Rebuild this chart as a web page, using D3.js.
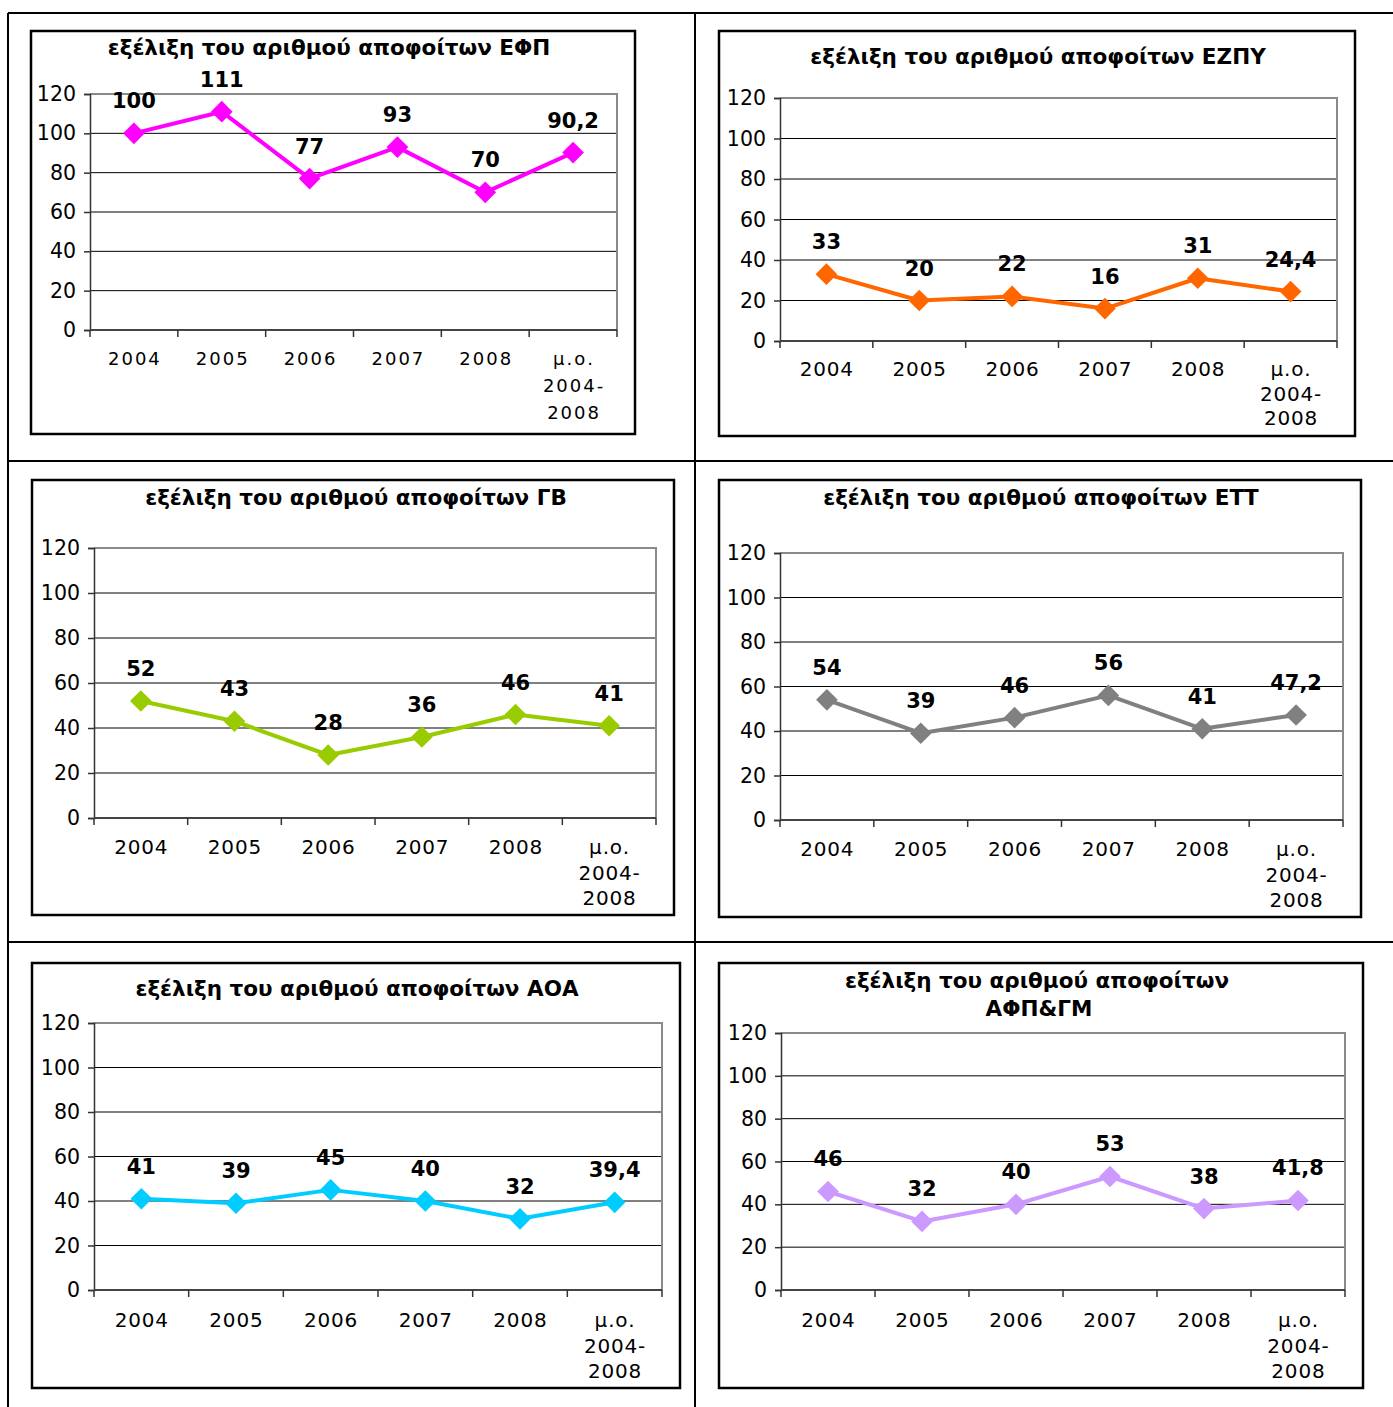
<!DOCTYPE html>
<html><head><meta charset="utf-8">
<script src="https://cdn.jsdelivr.net/npm/d3@7"></script>
<style>body{margin:0;background:#fff}svg{display:block}</style></head>
<body><svg id="c" width="1393" height="1407"></svg>
<script>
// ---- data ----
const categories = ["2004", "2005", "2006", "2007", "2008", "μ.ο. 2004-2008"];
const categoryLines = [["2004"], ["2005"], ["2006"], ["2007"], ["2008"], ["μ.ο.", "2004-", "2008"]];
const yTicks = [0, 20, 40, 60, 80, 100, 120];
const titles = [
  ["εξέλιξη του αριθμού αποφοίτων ΕΦΠ"],
  ["εξέλιξη του αριθμού αποφοίτων ΕΖΠΥ"],
  ["εξέλιξη του αριθμού αποφοίτων ΓΒ"],
  ["εξέλιξη του αριθμού αποφοίτων ΕΤΤ"],
  ["εξέλιξη του αριθμού αποφοίτων ΑΟΑ"],
  ["εξέλιξη του αριθμού αποφοίτων", "ΑΦΠ&ΓΜ"]
];
const valuesEFP = [100, 111, 77, 93, 70, 90.2];
const valuesEZPY = [33, 20, 22, 16, 31, 24.4];
const valuesGB = [52, 43, 28, 36, 46, 41];
const valuesETT = [54, 39, 46, 56, 41, 47.2];
const valuesAOA = [41, 39, 45, 40, 32, 39.4];
const valuesAFPGM = [46, 32, 40, 53, 38, 41.8];
const seriesColors = ["#FF00FF", "#FF6600", "#99CC00", "#808080", "#00CCFF", "#CC99FF"];

// ---- layout (positions only) ----
const layout = [
  {box: [31, 31, 635, 434], plot: [90, 94, 617, 330], titleX: [329], titleY: [55], xLab: 365, lh: 27, fs: 18, ls: 2},
  {box: [719, 31, 1355, 436], plot: [780, 98, 1337, 341], titleX: [1038], titleY: [64], xLab: 376, lh: 24.5, fs: 20, ls: 0.8},
  {box: [32, 480, 674, 915], plot: [94, 548, 656, 818], titleX: [356], titleY: [505], xLab: 854, lh: 25.5, fs: 20, ls: 0.8},
  {box: [719, 480, 1361, 917], plot: [780, 553, 1343, 820], titleX: [1041], titleY: [505], xLab: 856, lh: 25.5, fs: 20, ls: 0.8},
  {box: [32, 963, 680, 1388], plot: [94, 1023, 662, 1290], titleX: [357], titleY: [996], xLab: 1327, lh: 25.5, fs: 20, ls: 0.8},
  {box: [719, 963, 1363, 1388], plot: [781, 1033, 1345, 1290], titleX: [1037, 1039], titleY: [988, 1016], xLab: 1327, lh: 25.5, fs: 20, ls: 0.8}
];
const allValues = [valuesEFP, valuesEZPY, valuesGB, valuesETT, valuesAOA, valuesAFPGM];

const svg = d3.select("#c");
const FONT = "'DejaVu Sans', Verdana, sans-serif";

// table grid
const grid = svg.append("g").attr("stroke", "#000").attr("stroke-width", 2);
[[8, 13, 8, 1407], [695, 13, 695, 1407], [8, 13, 1393, 13], [8, 461, 1393, 461], [8, 942, 1393, 942]]
  .forEach(l => grid.append("line").attr("x1", l[0]).attr("y1", l[1]).attr("x2", l[2]).attr("y2", l[3]));

allValues.forEach((vals, i) => {
  const L = layout[i];
  const g = svg.append("g");
  const [bx0, by0, bx1, by1] = L.box;
  g.append("rect").attr("x", bx0).attr("y", by0).attr("width", bx1 - bx0).attr("height", by1 - by0)
    .attr("fill", "#fff").attr("stroke", "#000").attr("stroke-width", 2.5);

  const [px0, py0, px1, py1] = L.plot;
  const x = d3.scaleBand().domain(categories).range([px0, px1]).paddingInner(0).paddingOuter(0);
  const y = d3.scaleLinear().domain([0, 120]).range([py1, py0]);

  // title
  titles[i].forEach((t, k) => {
    g.append("text").attr("x", L.titleX[k]).attr("y", L.titleY[k])
      .attr("text-anchor", "middle").attr("font-family", FONT).attr("font-weight", "bold")
      .attr("font-size", 21.5).attr("fill", "#000").text(t);
  });

  // gridlines
  g.append("g").selectAll("line").data(yTicks.filter(v => v > 0 && v < 120)).join("line")
    .attr("x1", px0).attr("x2", px1).attr("y1", d => y(d)).attr("y2", d => y(d))
    .attr("stroke", "#000").attr("stroke-width", 1);
  // plot frame (top & right)
  g.append("path").attr("d", `M${px0},${py0}H${px1}V${py1}`).attr("fill", "none")
    .attr("stroke", "#8a8a8a").attr("stroke-width", 2);

  // y axis
  const yAxis = d3.axisLeft(y).tickValues(yTicks).tickSize(6).tickPadding(8);
  const ya = g.append("g").attr("transform", `translate(${px0},0)`).call(yAxis);
  ya.select(".domain").attr("stroke", "#333").attr("stroke-width", 1.5);
  ya.selectAll(".tick line").attr("stroke", "#333").attr("stroke-width", 1.5);
  ya.selectAll(".tick text").attr("font-family", FONT).attr("font-size", 20.5).attr("fill", "#000");

  // x axis (ticks at band boundaries)
  const xa = g.append("g");
  xa.append("line").attr("x1", px0).attr("x2", px1).attr("y1", py1).attr("y2", py1)
    .attr("stroke", "#444").attr("stroke-width", 2);
  const bounds = categories.map(c => x(c)).concat([px1]);
  xa.selectAll("line.t").data(bounds).join("line").attr("class", "t")
    .attr("x1", d => d).attr("x2", d => d).attr("y1", py1).attr("y2", py1 + 7)
    .attr("stroke", "#333").attr("stroke-width", 1.5);
  categoryLines.forEach((lines, ci) => {
    const cx = x(categories[ci]) + x.bandwidth() / 2;
    lines.forEach((ln, k) => {
      xa.append("text").attr("x", cx + L.ls / 2).attr("y", L.xLab + k * L.lh)
        .attr("text-anchor", "middle").attr("font-family", FONT).attr("font-size", L.fs)
        .attr("letter-spacing", L.ls).attr("fill", "#000").text(ln);
    });
  });

  // series line
  const cxOf = (d, k) => x(categories[k]) + x.bandwidth() / 2;
  const line = d3.line().x(cxOf).y(d => y(d));
  g.append("path").datum(vals).attr("d", line).attr("fill", "none")
    .attr("stroke", seriesColors[i]).attr("stroke-width", 4).attr("stroke-linejoin", "round");
  const sym = d3.symbol().type(d3.symbolDiamond2).size(300);
  g.append("g").selectAll("path").data(vals).join("path")
    .attr("transform", (d, k) => `translate(${cxOf(d, k)},${y(d)})`)
    .attr("d", sym).attr("fill", seriesColors[i]);

  // value labels
  g.append("g").selectAll("text").data(vals).join("text")
    .attr("x", (d, k) => cxOf(d, k)).attr("y", d => y(d) - 25)
    .attr("text-anchor", "middle").attr("font-family", FONT).attr("font-weight", "bold")
    .attr("font-size", 21).attr("fill", "#000")
    .text(d => String(d).replace(".", ","));
});
</script></body></html>
